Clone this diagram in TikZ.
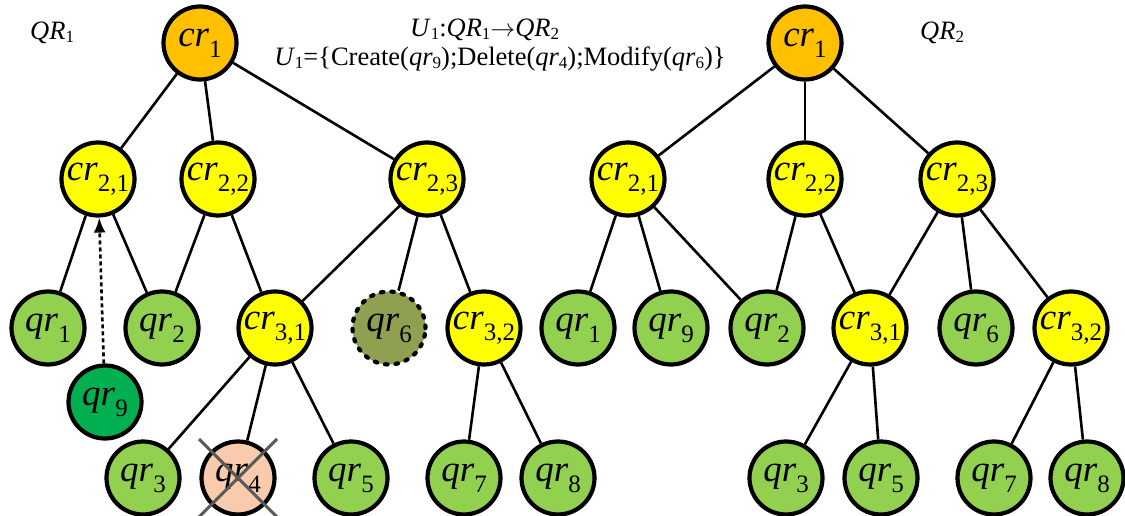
\documentclass[tikz,border=0pt]{standalone}
\usepackage{fontspec}
\setmainfont{Liberation Serif}
\usetikzlibrary{arrows.meta}

\definecolor{rootorange}{HTML}{FFC000}
\definecolor{innerylw}{HTML}{FFFF00}
\definecolor{leafgreen}{HTML}{92D050}
\definecolor{newgreen}{HTML}{00B050}
\definecolor{modolive}{RGB}{143,160,80}
\definecolor{delpeach}{HTML}{F8CBAD}
\definecolor{crossgray}{HTML}{595959}

% node label: italic name with an upright, lowered index
\newcommand{\nlab}[2]{\textit{#1}\raisebox{-11pt}{\fontsize{25}{27}\selectfont #2}}
% header label at text size
\newcommand{\hlab}[2]{\textit{#1}\raisebox{-3pt}{\fontsize{17}{19}\selectfont #2}}

\tikzset{
  treenode/.style={circle, draw=black, line width=4.2pt, minimum size=73pt,
    inner sep=0pt, font=\fontsize{37}{40}\selectfont},
  rootnode/.style={treenode, fill=rootorange},
  innernode/.style={treenode, fill=innerylw},
  leafnode/.style={treenode, fill=leafgreen},
  newnode/.style={treenode, fill=newgreen},
  modnode/.style={treenode, fill=modolive, line cap=round, dash pattern=on 2.5pt off 8pt},
  delnode/.style={treenode, fill=delpeach},
  edge/.style={draw=black, line width=2.6pt},
  addarrow/.style={draw=black, line width=2.6pt, dash pattern=on 4pt off 3pt,
    -{Latex[length=15pt,width=12pt]}},
  cross/.style={draw=crossgray, line width=3pt},
  header/.style={font=\fontsize{26.5}{30}\selectfont, inner sep=0pt}
}

\begin{document}
\begin{tikzpicture}[x=1pt, y=-1pt]
\useasboundingbox (0,0) rectangle (1125,516);

% ---- headers ----
\node[header, anchor=base west] (hqr1) at (30,40) {\hlab{QR}{1}};
\node[header, anchor=base west] (hqr2) at (920,40) {\hlab{QR}{2}};
\node[header, anchor=base west] (uone) at (410,37)
  {\hlab{U}{1}:\hlab{QR}{1}\ensuremath{\rightarrow}\hlab{QR}{2}};
\node[header, anchor=base] (uset) at (500,66)
  {\hlab{U}{1}=\{Create(\hlab{qr}{9});Delete(\hlab{qr}{4});Modify(\hlab{qr}{6})\}};

% ---- tree QR1 ----
\node[rootnode]  (Lcr1)  at (200,43)  {\nlab{cr}{1}};
\node[innernode] (Lc21)  at (98,179)  {\nlab{cr}{2,1}};
\node[innernode] (Lc22)  at (218,179) {\nlab{cr}{2,2}};
\node[innernode] (Lc23)  at (427,179) {\nlab{cr}{2,3}};
\node[leafnode]  (Lq1)   at (48,328)  {\nlab{qr}{1}};
\node[leafnode]  (Lq2)   at (162,328) {\nlab{qr}{2}};
\node[innernode] (Lc31)  at (275,328) {\nlab{cr}{3,1}};
\node[modnode]   (Lq6)   at (389,328) {\nlab{qr}{6}};
\node[innernode] (Lc32)  at (484,328) {\nlab{cr}{3,2}};
\node[newnode]   (Lq9)   at (105,402) {\nlab{qr}{9}};
\node[leafnode]  (Lq3)   at (143,478) {\nlab{qr}{3}};
\node[delnode]   (Lq4)   at (238,478) {\nlab{qr}{4}};
\node[leafnode]  (Lq5)   at (351,478) {\nlab{qr}{5}};
\node[leafnode]  (Lq7)   at (464,478) {\nlab{qr}{7}};
\node[leafnode]  (Lq8)   at (558,478) {\nlab{qr}{8}};

\draw[edge] (Lcr1) -- (Lc21);
\draw[edge] (Lcr1) -- (Lc22);
\draw[edge] (Lcr1) -- (Lc23);
\draw[edge] (Lc21) -- (Lq1);
\draw[edge] (Lc21) -- (Lq2);
\draw[edge] (Lc22) -- (Lq2);
\draw[edge] (Lc22) -- (Lc31);
\draw[edge] (Lc23) -- (Lc31);
\draw[edge] (Lc23) -- (Lq6);
\draw[edge] (Lc23) -- (Lc32);
\draw[edge] (Lc31) -- (Lq3);
\draw[edge] (Lc31) -- (Lq4);
\draw[edge] (Lc31) -- (Lq5);
\draw[edge] (Lc32) -- (Lq7);
\draw[edge] (Lc32) -- (Lq8);
\draw[addarrow] (Lq9) -- (Lc21);

% deleted leaf is crossed out
\draw[cross] ([shift={(-39,-39)}]Lq4.center) -- ([shift={(39,39)}]Lq4.center);
\draw[cross] ([shift={(39,-39)}]Lq4.center) -- ([shift={(-39,39)}]Lq4.center);

% ---- tree QR2 ----
\node[rootnode]  (Rcr1)  at (805,43)   {\nlab{cr}{1}};
\node[innernode] (Rc21)  at (628,179)  {\nlab{cr}{2,1}};
\node[innernode] (Rc22)  at (805,179)  {\nlab{cr}{2,2}};
\node[innernode] (Rc23)  at (957,179)  {\nlab{cr}{2,3}};
\node[leafnode]  (Rq1)   at (578,328)  {\nlab{qr}{1}};
\node[leafnode]  (Rq9)   at (671,328)  {\nlab{qr}{9}};
\node[leafnode]  (Rq2)   at (767,328)  {\nlab{qr}{2}};
\node[innernode] (Rc31)  at (870,328)  {\nlab{cr}{3,1}};
\node[leafnode]  (Rq6)   at (976,328)  {\nlab{qr}{6}};
\node[innernode] (Rc32)  at (1071,328) {\nlab{cr}{3,2}};
\node[leafnode]  (Rq3)   at (786,478)  {\nlab{qr}{3}};
\node[leafnode]  (Rq5)   at (881,478)  {\nlab{qr}{5}};
\node[leafnode]  (Rq7)   at (994,478)  {\nlab{qr}{7}};
\node[leafnode]  (Rq8)   at (1087,478) {\nlab{qr}{8}};

\draw[edge] (Rcr1) -- (Rc21);
\draw[edge] (Rcr1) -- (Rc22);
\draw[edge] (Rcr1) -- (Rc23);
\draw[edge] (Rc21) -- (Rq1);
\draw[edge] (Rc21) -- (Rq9);
\draw[edge] (Rc21) -- (Rq2);
\draw[edge] (Rc22) -- (Rq2);
\draw[edge] (Rc22) -- (Rc31);
\draw[edge] (Rc23) -- (Rc31);
\draw[edge] (Rc23) -- (Rq6);
\draw[edge] (Rc23) -- (Rc32);
\draw[edge] (Rc31) -- (Rq3);
\draw[edge] (Rc31) -- (Rq5);
\draw[edge] (Rc32) -- (Rq7);
\draw[edge] (Rc32) -- (Rq8);
\end{tikzpicture}
\end{document}
